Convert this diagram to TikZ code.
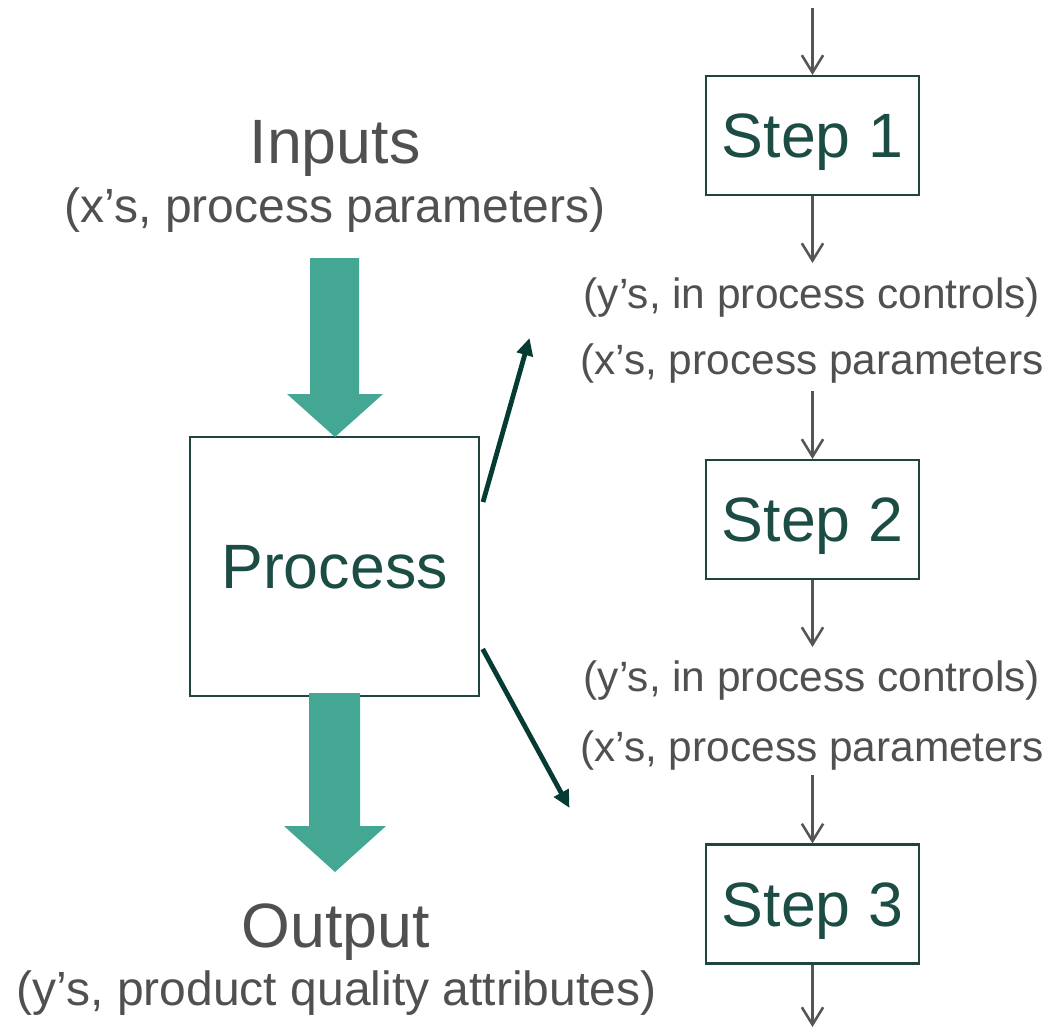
\documentclass[tikz,border=0pt]{standalone}
\usepackage{fontspec}
\setmainfont{Liberation Sans}
\usetikzlibrary{arrows.meta,calc}

\definecolor{txtgray}{HTML}{505050}
\definecolor{stepgreen}{HTML}{1B4D45}
\definecolor{boxline}{HTML}{1E4540}
\definecolor{blockteal}{HTML}{43A794}
\definecolor{darkarrow}{HTML}{063B34}
\definecolor{flowgray}{HTML}{555555}

\tikzset{
  bigtext/.style={font=\fontsize{47}{56}\selectfont},
  midtext/.style={font=\fontsize{36}{43}\selectfont},
  smalltext/.style={font=\fontsize{31.8}{38}\selectfont},
  label/.style={text=txtgray, anchor=base, inner sep=0pt},
  stepbox/.style={draw=boxline, line width=1.6pt, fill=white,
    minimum width=159.75pt, minimum height=89.25pt, inner sep=0pt,
    text height=33.6pt, text depth=0pt, text=stepgreen, bigtext},
  procbox/.style={draw=boxline, line width=1.5pt, fill=white,
    minimum width=216.75pt, minimum height=194.25pt, inner sep=0pt,
    text height=33.6pt, text depth=0pt, text=stepgreen, bigtext},
  flow/.style={draw=flowgray, line width=1.9pt,
    -{Straight Barb[length=13pt, width=16pt, line width=1.9pt]}},
  branch/.style={draw=darkarrow, line width=3.6pt,
    -{Triangle[length=13pt, width=12pt]}},
  blockarrow/.style={fill=blockteal, draw=none},
}

\begin{document}
\begin{tikzpicture}[x=0.75pt, y=-0.75pt]
\useasboundingbox (0,0) rectangle (1050,1029);

% left column: inputs, process, output
\node[label, bigtext] (inputs) at (335,163) {Inputs};
\node[label, midtext] (inparams) at (335,222) {(x’s, process parameters)};

\node[procbox] (proc) at (334.5,566.5) {Process};

\fill[blockarrow] (310,258) -- (359,258) -- (359,394) -- (383,394)
  -- (335,437) -- (287,394) -- (310,394) -- cycle;
\fill[blockarrow] (309,693) -- (360,693) -- (360,826) -- (386,826)
  -- (335,872) -- (284,826) -- (309,826) -- cycle;

\node[label, bigtext] (output) at (335.5,947) {Output};
\node[label, midtext] (outattr) at (336.5,1005) {(y’s, product quality attributes)};

% right column: the chain of steps
\node[stepbox] (s1) at (812.5,135.5) {Step 1};
\node[stepbox] (s2) at (812.5,519.5) {Step 2};
\node[stepbox] (s3) at (812.5,904) {Step 3};

\node[label, smalltext] (y1) at (812,308) {(y’s, in process controls)};
\node[label, smalltext] (x1) at (812,374) {(x’s, process parameters};
\node[label, smalltext] (y2) at (812,691) {(y’s, in process controls)};
\node[label, smalltext] (x2) at (812,761) {(x’s, process parameters};

\coordinate (top)  at (812.5,8);
\coordinate (e1)   at (812.5,263);
\coordinate (b2)   at (812.5,391);
\coordinate (e2)   at (812.5,647);
\coordinate (b3)   at (812.5,775);
\coordinate (tail) at (812.5,1027);

\draw[flow] (top) -- (s1.north);
\draw[flow] (s1.south) -- (e1);
\draw[flow] (b2) -- (s2.north);
\draw[flow] (s2.south) -- (e2);
\draw[flow] (b3) -- (s3.north);
\draw[flow] (s3.south) -- (tail);

% branches from the process box to the step chain
\coordinate (up0)   at (483,502);
\coordinate (up1)   at (529.5,338);
\coordinate (down0) at (482.7,649);
\coordinate (down1) at (569.5,808);
\draw[branch] (up0) -- (up1);
\draw[branch] (down0) -- (down1);
\end{tikzpicture}
\end{document}
